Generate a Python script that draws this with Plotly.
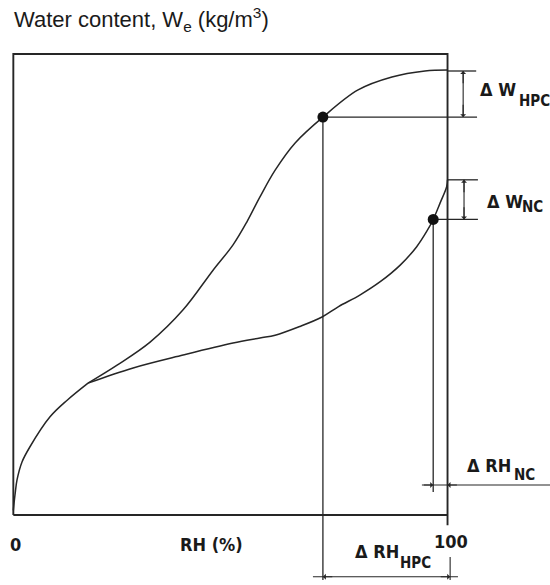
import plotly.graph_objects as go

# ---- data (RH in %, W in relative units, 0..100 frame) ----
common_rh = [0.0, 0.4, 0.85, 2.0, 3.8, 8.45, 12.4, 17.2]
common_w = [1.0, 4.5, 7.6, 11.5, 14.75, 21.3, 24.9, 28.6]

hpc_rh = [17.2, 23.9, 31.5, 39.1, 46.0, 50.6, 53.8, 56.8, 60.3, 64.9, 71.3, 79.4, 87.2, 94.8, 100.0]
hpc_w = [28.6, 32.5, 37.5, 44.5, 53.1, 58.6, 63.6, 69.0, 74.8, 80.7, 86.3, 92.2, 95.0, 96.3, 96.5]

nc_rh = [17.2, 27.6, 39.1, 50.6, 56.8, 60.3, 66.0, 71.1, 74.9, 79.8, 84.5, 89.1, 92.9, 95.2, 96.7, 98.3, 99.8, 100.0]
nc_w = [28.6, 31.9, 34.7, 37.3, 38.4, 39.0, 40.9, 42.95, 45.2, 47.7, 50.6, 54.2, 58.2, 61.5, 64.1, 67.7, 71.2, 72.7]

hpc_point = (71.3, 86.3)   # (RH, W) marked point on HPC curve
nc_point = (96.7, 64.1)    # (RH, W) marked point on NC curve
hpc_wmax = 96.3
nc_wmax = 72.7

title_text = "Water content, W<sub>e</sub> (kg/m<sup>3</sup>)"
x_labels = ["0", "RH (%)", "100"]

LINE = "#262626"
TECH = "DejaVu Sans Condensed, DejaVu Sans, sans-serif"

fig = go.Figure()

def line(xs, ys, w=1.5):
    fig.add_trace(go.Scatter(x=xs, y=ys, mode="lines",
                             line=dict(color=LINE, width=w, shape="spline", smoothing=1.0),
                             hoverinfo="skip", showlegend=False))

def straight(xs, ys, w=1.3):
    fig.add_trace(go.Scatter(x=xs, y=ys, mode="lines",
                             line=dict(color=LINE, width=w),
                             hoverinfo="skip", showlegend=False))

# frame
straight([0, 0, 100, 100], [0, 100, 100, -2.2], w=1.9)
straight([0, 100], [0, 0], w=1.9)

# curves
line(common_rh, common_w)
line(hpc_rh, hpc_w)
line(nc_rh, nc_w)

# dimension lines for HPC
straight([100, 106.6], [hpc_wmax, hpc_wmax])
straight([hpc_point[0], 106.8], [hpc_point[1], hpc_point[1]])
straight([103.6, 103.6], [hpc_wmax, hpc_point[1]], w=1.1)
straight([hpc_point[0], hpc_point[0]], [hpc_point[1], -14.1])
straight([69.0, 102.4], [-13.4, -13.4], w=1.1)
straight([100.6, 100.6], [-9.1, -14.1], w=1.1)

# dimension lines for NC
straight([100, 107.0], [nc_wmax, nc_wmax])
straight([nc_point[0], 107.0], [nc_point[1], nc_point[1]])
straight([103.8, 103.8], [nc_wmax, nc_point[1]], w=1.1)
straight([nc_point[0], nc_point[0]], [nc_point[1], 5.0])
straight([94.1, 123.6], [6.5, 6.5], w=1.1)

# points
fig.add_trace(go.Scatter(x=[hpc_point[0], nc_point[0]], y=[hpc_point[1], nc_point[1]],
                         mode="markers", marker=dict(color="#111111", size=11),
                         hoverinfo="skip", showlegend=False))

ann = []
def arrow(x, y, ax, ay):
    ann.append(dict(x=x, y=y, ax=ax, ay=ay, xref="x", yref="y", axref="x", ayref="y",
                    text="", showarrow=True, arrowhead=1, arrowsize=0.9,
                    arrowwidth=1.1, arrowcolor=LINE))

arrow(103.6, hpc_wmax, 103.6, hpc_wmax - 3)
arrow(103.6, hpc_point[1], 103.6, hpc_point[1] + 3)
arrow(103.8, nc_wmax, 103.8, nc_wmax - 3)
arrow(103.8, nc_point[1], 103.8, nc_point[1] + 3)
arrow(nc_point[0], 6.5, nc_point[0] - 2.5, 6.5)
arrow(100, 6.5, 102.5, 6.5)
arrow(hpc_point[0], -13.4, hpc_point[0] + 2.5, -13.4)
arrow(100.6, -13.4, 98.1, -13.4)

def txt(x, y, t, size, anchor="left", family=TECH, color="#1a1a1a", weight="bold"):
    ann.append(dict(x=x, y=y, xref="x", yref="y", text=t, showarrow=False,
                    xanchor=anchor, yanchor="middle",
                    font=dict(family=family, size=size, color=color, weight=weight)))

# dimension labels (main part + subscript)
txt(107.0, 92.2, "Δ W", 18)
txt(116.0, 89.9, "HPC", 15)
txt(108.6, 68.1, "Δ W", 18)
txt(116.7, 66.7, "NC", 15)
txt(104.0, 10.7, "Δ RH", 18)
txt(114.9, 8.7, "NC", 15)
txt(78.2, -8.0, "Δ RH", 18)
txt(88.6, -10.3, "HPC", 15)
# axis labels
txt(0.6, -6.3, x_labels[0], 18, anchor="center")
txt(45.7, -6.3, x_labels[1], 18, anchor="center")
txt(100.7, -5.75, x_labels[2], 18, anchor="center")
# title
txt(-0.3, 107.4, title_text, 22, family="Liberation Sans, Arial, sans-serif", weight="normal")

fig.update_layout(
    width=550, height=585,
    margin=dict(l=0, r=0, t=0, b=0),
    paper_bgcolor="white", plot_bgcolor="white",
    xaxis=dict(range=[-3.07, 123.6], visible=False, fixedrange=True),
    yaxis=dict(range=[-15.18, 111.7], visible=False, fixedrange=True),
    annotations=ann,
    showlegend=False,
)

fig.write_html("out.html", config={"displayModeBar": False},
               post_script="document.body.style.margin='0';document.body.style.overflow='hidden';")
